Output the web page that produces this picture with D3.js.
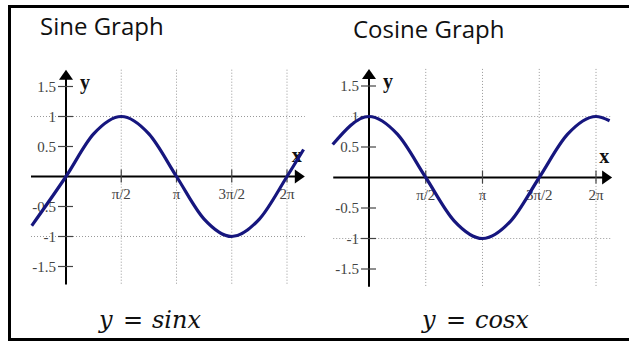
<!DOCTYPE html>
<html>
<head>
<meta charset="UTF-8">
<title>Sine and Cosine Graphs</title>
<script src="https://cdn.jsdelivr.net/npm/d3@7"></script>
<style>
  body { margin: 0; background: #fff; }
  .title { font-family: "Open Sans", sans-serif; font-size: 24px; fill: #111; }
  .tick-label { font-family: "Liberation Serif", "Times New Roman", serif; font-size: 15px; fill: #444; }
  .axis-name { font-family: "Liberation Serif", serif; font-size: 20px; font-weight: bold; fill: #111; }
  .grid { stroke: #999; stroke-width: 1; stroke-dasharray: 1,2; }
  .axis { stroke: #000; stroke-width: 2; }
  .curve { fill: none; stroke: #16167e; stroke-width: 3.2; }
  .formula { font-family: "DejaVu Serif", "Liberation Serif", serif; font-size: 24px; fill: #111; }
</style>
</head>
<body>
<svg width="629" height="341"></svg>
<script>
var PI = Math.PI;

// x ticks (radians) and their labels
var xTicks = [PI / 2, PI, 3 * PI / 2, 2 * PI];
var xTickLabels = ["\u03c0/2", "\u03c0", "3\u03c0/2", "2\u03c0"];
var yTicks = [1.5, 1, 0.5, -0.5, -1, -1.5];
var gridY = [1, -1];

// points, x in multiples of pi
var sineX = [-0.31, 0, 0.25, 0.5, 0.75, 1, 1.25, 1.5, 1.75, 2, 2.15];
var sineY = [-0.82, 0, 0.71, 1, 0.71, 0, -0.71, -1, -0.71, 0, 0.45];
var cosX = [-0.32, 0, 0.25, 0.5, 0.75, 1, 1.25, 1.5, 1.75, 2, 2.12];
var cosY = [0.54, 1, 0.71, 0, -0.71, -1, -0.71, 0, 0.71, 1, 0.93];

var panels = [
  {title: "Sine Graph", titleX: 40, titleY: 35, xs: sineX, ys: sineY,
   xr: [66, 287], yr: [176.5, 116.5], xExt: [-0.995, 6.79], yExt: [-1.8, 1.78],
   fLeft: 99, fn: "sinx"},
  {title: "Cosine Graph", titleX: 353, titleY: 38, xs: cosX, ys: cosY,
   xr: [369, 596], yr: [177.5, 116.5], xExt: [-0.99, 6.73], yExt: [-1.79, 1.78],
   fLeft: 422, fn: "cosx"}
];

var svg = d3.select("svg");

// frame
svg.append("line").attr("x1", 8).attr("x2", 629).attr("y1", 6.5).attr("y2", 6.5)
  .attr("stroke", "#000").attr("stroke-width", 3);
svg.append("line").attr("x1", 9.5).attr("x2", 9.5).attr("y1", 5).attr("y2", 341)
  .attr("stroke", "#000").attr("stroke-width", 3);
svg.append("line").attr("x1", 8).attr("x2", 629).attr("y1", 339.5).attr("y2", 339.5)
  .attr("stroke", "#000").attr("stroke-width", 3);

panels.forEach(function(p) {
  var x = d3.scaleLinear().domain([0, 2 * PI]).range(p.xr);
  var y = d3.scaleLinear().domain([0, 1]).range(p.yr);
  var g = svg.append("g");

  g.append("text").attr("class", "title").attr("x", p.titleX).attr("y", p.titleY).text(p.title);

  // dotted grid
  g.selectAll(".gv").data(xTicks).enter().append("line").attr("class", "grid")
    .attr("x1", d => x(d)).attr("x2", d => x(d))
    .attr("y1", y(p.yExt[1])).attr("y2", y(p.yExt[0]));
  g.selectAll(".gh").data(gridY).enter().append("line").attr("class", "grid")
    .attr("x1", x(p.xExt[0])).attr("x2", x(p.xExt[1]))
    .attr("y1", d => y(d)).attr("y2", d => y(d));

  // axes
  g.append("line").attr("class", "axis")
    .attr("x1", x(p.xExt[0])).attr("x2", x(p.xExt[1]) - 6)
    .attr("y1", y(0)).attr("y2", y(0));
  g.append("line").attr("class", "axis")
    .attr("x1", x(0)).attr("x2", x(0))
    .attr("y1", y(p.yExt[1]) + 6).attr("y2", y(p.yExt[0]));
  var ax = x(p.xExt[1]), ay = y(0);
  g.append("path").attr("d", "M" + ax + "," + ay + "l-10,-7l0,14z").attr("fill", "#000");
  var bx = x(0), by = y(p.yExt[1]);
  g.append("path").attr("d", "M" + bx + "," + by + "l-7,10l14,0z").attr("fill", "#000");

  // ticks
  g.selectAll(".tx").data(xTicks).enter().append("line")
    .attr("stroke", "#444").attr("stroke-width", 1.2)
    .attr("x1", d => x(d)).attr("x2", d => x(d))
    .attr("y1", y(0) - 7).attr("y2", y(0) + 6);
  g.selectAll(".ty").data(yTicks).enter().append("line")
    .attr("stroke", "#444").attr("stroke-width", 1.2)
    .attr("x1", x(0) - 8).attr("x2", x(0) + 7)
    .attr("y1", d => y(d)).attr("y2", d => y(d));

  g.selectAll(".lx").data(xTicks).enter().append("text").attr("class", "tick-label")
    .attr("x", d => x(d)).attr("y", y(0) + 22).attr("text-anchor", "middle")
    .text((d, i) => xTickLabels[i]);
  g.selectAll(".ly").data(yTicks).enter().append("text").attr("class", "tick-label")
    .attr("x", x(0) - 10).attr("y", d => y(d) + 5).attr("text-anchor", "end")
    .text(d => d);

  g.append("text").attr("class", "axis-name").attr("x", x(0) + 14).attr("y", y(p.yExt[1]) + 19).text("y");
  g.append("text").attr("class", "axis-name").attr("x", ax - 13).attr("y", ay - 15).text("x");

  // curve
  var pts = p.xs.map((v, i) => [v * PI, p.ys[i]]);
  g.append("path").attr("class", "curve")
    .attr("d", d3.line().x(d => x(d[0])).y(d => y(d[1])).curve(d3.curveMonotoneX)(pts));

  // formula: y  =  fn
  var fy = 328;
  g.append("text").attr("class", "formula").attr("font-style", "italic")
    .attr("x", p.fLeft).attr("y", fy).text("y");
  g.append("text").attr("class", "formula")
    .attr("x", p.fLeft + 34).attr("y", fy).attr("text-anchor", "middle").text("=");
  g.append("text").attr("class", "formula").attr("font-style", "italic")
    .attr("x", p.fLeft + 53).attr("y", fy).text(p.fn);
});
</script>
</body>
</html>
